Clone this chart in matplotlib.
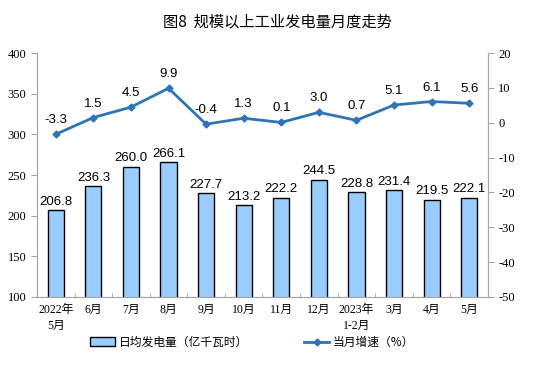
import matplotlib
matplotlib.use("Agg")
import matplotlib.pyplot as plt
import numpy as np

plt.rcParams['font.family'] = ['Liberation Serif', 'Noto Sans CJK SC', 'DejaVu Sans']
plt.rcParams['axes.unicode_minus'] = False

months = ['2022年\n5月', '6月', '7月', '8月', '9月', '10月', '11月', '12月',
          '2023年\n1-2月', '3月', '4月', '5月']
daily_output = [206.8, 236.3, 260.0, 266.1, 227.7, 213.2, 222.2, 244.5,
                228.8, 231.4, 219.5, 222.1]
growth = [-3.3, 1.5, 4.5, 9.9, -0.4, 1.3, 0.1, 3.0, 0.7, 5.1, 6.1, 5.6]

bar_color = '#99CCFF'
line_color = '#2E75B6'
spine_color = '#A6A6A6'

fig = plt.figure(figsize=(5.54, 3.74), dpi=100)
ax = fig.add_axes([0.0668, 0.206, 0.814, 0.652])
ax2 = ax.twinx()

x = np.arange(len(months))
bars = ax.bar(x, daily_output, width=0.43, color=bar_color, edgecolor='black',
              linewidth=1.0, zorder=2)
for xi, v in zip(x, daily_output):
    ax.text(xi, v + 3, f'{v:.1f}', ha='center', va='bottom', fontsize=9.5,
            family=['Liberation Sans', 'DejaVu Sans'])

ax.set_ylim(100, 400)
ax.set_yticks(range(100, 401, 50))
ax.set_xlim(-0.5, len(months) - 0.5)
ax.set_xticks(x)
ax.set_xticklabels(months, fontsize=8.5, linespacing=1.45)
ax.set_xticks(np.arange(-0.5, len(months), 1), minor=True)
ax.tick_params(axis='x', which='major', length=0, pad=5)
ax.tick_params(axis='x', which='minor', direction='in', length=3, color=spine_color)
ax.tick_params(axis='y', labelsize=9, length=4, color=spine_color)

line, = ax2.plot(x, growth, color=line_color, linewidth=2, marker='D', markersize=3.5,
                 zorder=3)
for xi, v in zip(x, growth):
    ax2.text(xi, v + 2.3, f'{v:.1f}', ha='center', va='bottom', fontsize=9.5,
             family=['Liberation Sans', 'DejaVu Sans'])
ax2.set_ylim(-50, 20)
ax2.set_yticks(range(-50, 21, 10))
ax2.tick_params(axis='y', labelsize=9, length=4, color=spine_color)

for a in (ax, ax2):
    a.spines['top'].set_visible(False)
    for s in ('left', 'right', 'bottom'):
        a.spines[s].set_color(spine_color)

fig.text(0.5, 0.94, '图8  规模以上工业发电量月度走势', ha='center', va='center',
         fontsize=11, family=['Noto Sans CJK SC', 'DejaVu Sans'])

fig.legend([bars, line], ['日均发电量（亿千瓦时）', '当月增速（%）'], loc='center',
           bbox_to_anchor=(0.455, 0.085), ncol=2, frameon=False,
           columnspacing=4.8, handlelength=2.1, handletextpad=0.3,
           prop={'family': ['Noto Sans CJK SC', 'DejaVu Sans'], 'size': 8.5})

fig.savefig('out.png', dpi=100)
